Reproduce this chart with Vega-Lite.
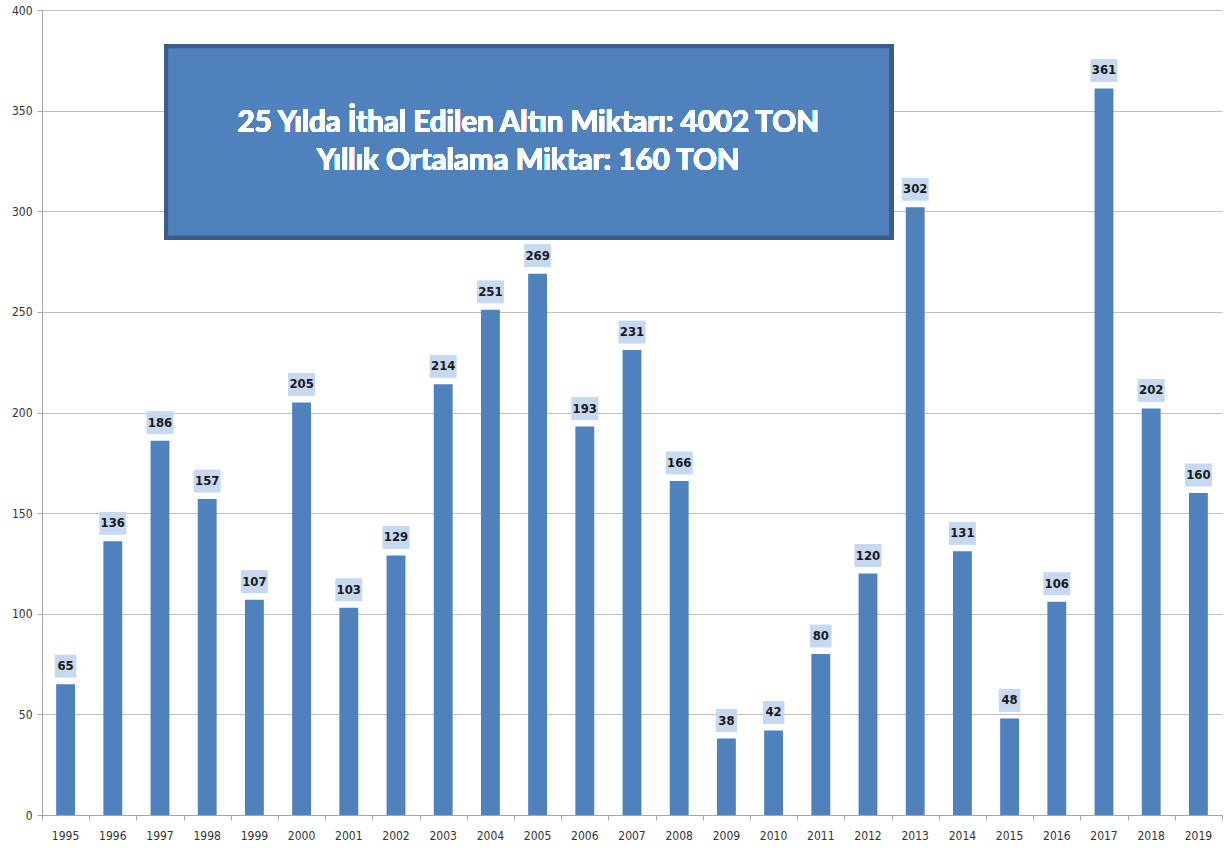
{
  "$schema": "https://vega.github.io/schema/vega-lite/v6.json",
  "width": 1180,
  "height": 805,
  "autosize": {"type": "none"},
  "padding": {"left": 42, "top": 10, "right": 4, "bottom": 33},
  "background": "white",
  "config": {"view": {"stroke": null}},
  "data": {"values": [
    {"year": "1995", "v": 65}, {"year": "1996", "v": 136}, {"year": "1997", "v": 186},
    {"year": "1998", "v": 157}, {"year": "1999", "v": 107}, {"year": "2000", "v": 205},
    {"year": "2001", "v": 103}, {"year": "2002", "v": 129}, {"year": "2003", "v": 214},
    {"year": "2004", "v": 251}, {"year": "2005", "v": 269}, {"year": "2006", "v": 193},
    {"year": "2007", "v": 231}, {"year": "2008", "v": 166}, {"year": "2009", "v": 38},
    {"year": "2010", "v": 42}, {"year": "2011", "v": 80}, {"year": "2012", "v": 120},
    {"year": "2013", "v": 302}, {"year": "2014", "v": 131}, {"year": "2015", "v": 48},
    {"year": "2016", "v": 106}, {"year": "2017", "v": 361}, {"year": "2018", "v": 202},
    {"year": "2019", "v": 160}
  ]},
  "resolve": {"scale": {"x": "independent"}, "axis": {"x": "independent"}},
  "layer": [
    {
      "encoding": {
        "x": {"field": "year", "type": "nominal", "sort": null,
          "scale": {"paddingInner": 0.6, "paddingOuter": 0.3},
          "axis": {"title": null, "ticks": false, "labelAngle": 0, "labelPadding": 15,
            "labelFont": "DejaVu Sans Condensed, sans-serif", "labelFontSize": 12,
            "labelColor": "#333333", "domainColor": "#a6a6a6", "domainWidth": 1, "grid": false, "orient": "bottom"}},
        "y": {"field": "v", "type": "quantitative",
          "scale": {"domain": [0, 400], "nice": false},
          "axis": {"title": null, "values": [0, 50, 100, 150, 200, 250, 300, 350, 400],
            "grid": true, "gridColor": "#c0c0c0", "gridWidth": 1,
            "tickSize": 5, "tickColor": "#a6a6a6", "domainColor": "#a6a6a6",
            "labelPadding": 5, "labelFont": "DejaVu Sans Condensed, sans-serif",
            "labelFontSize": 12, "labelColor": "#333333"}}
      },
      "layer": [
        {"mark": {"type": "bar", "color": "#4F81BD"}},
        {"mark": {"type": "point", "filled": true, "opacity": 1, "color": "#c6d9f1", "strokeWidth": 0, "yOffset": -18, "size": 729},
          "encoding": {"shape": {"condition": {"test": "datum.v < 100", "value": "M-0.8,-0.85H0.8V0.85H-0.8Z"}, "value": "M-1,-0.85H1V0.85H-1Z"}}},
        {"mark": {"type": "text", "yOffset": -18, "baseline": "middle", "align": "center",
            "font": "DejaVu Sans Condensed, sans-serif", "fontWeight": "bold", "fontSize": 13, "color": "#1a1a1a"},
          "encoding": {"text": {"field": "v", "type": "quantitative"}}}
      ]
    },
    {
      "layer": [
        {"mark": {"type": "rect", "color": "#4F81BD", "stroke": "#385D8A", "strokeWidth": 4},
          "encoding": {
            "x": {"datum": 2.63, "type": "quantitative",
              "scale": {"domain": [0, 25], "nice": false, "zero": false},
              "axis": {"orient": "bottom", "values": [0,1,2,3,4,5,6,7,8,9,10,11,12,13,14,15,16,17,18,19,20,21,22,23,24,25],
                "labels": false, "domain": false, "grid": false, "ticks": true, "tickSize": 5, "tickColor": "#a6a6a6", "title": null}},
            "x2": {"datum": 17.99},
            "y": {"datum": 382, "type": "quantitative"},
            "y2": {"datum": 287}
          }},
        {"mark": {"type": "text", "fill": "#ffffff", "stroke": null, "font": "Lato", "fontWeight": "bold", "fontSize": 29.5,
            "align": "center", "baseline": "middle", "lineHeight": 38},
          "encoding": {
            "x": {"datum": 10.3, "type": "quantitative"},
            "y": {"datum": 343.9, "type": "quantitative"},
            "text": {"value": ["25 Yılda İthal Edilen Altın Miktarı: 4002 TON", "Yıllık Ortalama Miktar: 160 TON"]}
          }}
      ]
    }
  ]
}
